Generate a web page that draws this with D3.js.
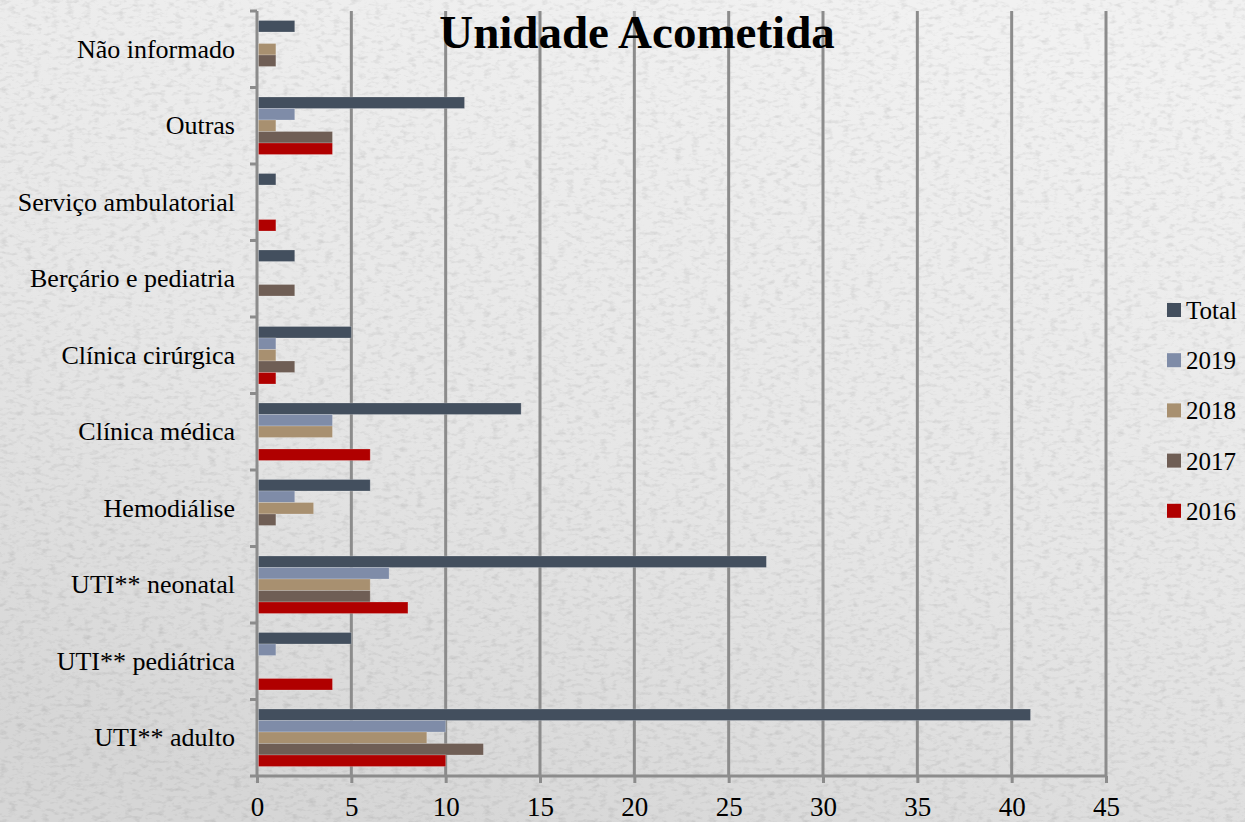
<!DOCTYPE html>
<html>
<head>
<meta charset="utf-8">
<script src="https://cdn.jsdelivr.net/npm/d3@7"></script>
<style>
  body { margin: 0; background: #e4e4e4; }
  svg { display: block; }
  text { font-family: "Liberation Serif", "Times New Roman", serif; fill: #000; }
</style>
</head>
<body>
<div id="chart"></div>
<script>
// data, top category first
var categories = ["Não informado", "Outras", "Serviço ambulatorial", "Berçário e pediatria",
    "Clínica cirúrgica", "Clínica médica", "Hemodiálise", "UTI** neonatal",
    "UTI** pediátrica", "UTI** adulto"];
var seriesNames = ["Total", "2019", "2018", "2017", "2016"];
var total = [2, 11, 1, 2, 5, 14, 6, 27, 5, 41];
var y2019 = [0, 2, 0, 0, 1, 4, 2, 7, 1, 10];
var y2018 = [1, 1, 0, 0, 1, 4, 3, 6, 0, 9];
var y2017 = [1, 4, 0, 2, 2, 0, 1, 6, 0, 12];
var y2016 = [0, 4, 1, 0, 1, 6, 0, 8, 4, 10];
var xTicks = [0, 5, 10, 15, 20, 25, 30, 35, 40, 45];

var colors = ["#434f5e", "#7f8ca8", "#a89070", "#6f5e55", "#b00000"];
var seriesValues = [total, y2019, y2018, y2017, y2016];

var svgWidth = 1245;
var svgHeight = 822;
var margin = { top: 11, right: 139, bottom: 46, left: 257 };
var width = svgWidth - margin.left - margin.right;
var height = svgHeight - margin.top - margin.bottom;

var svg = d3.select("#chart")
    .append("svg")
    .attr("width", svgWidth)
    .attr("height", svgHeight);

// paper-like background
var defs = svg.append("defs");
var grad = defs.append("linearGradient").attr("id", "bg")
    .attr("x1", "0.7").attr("y1", "0").attr("x2", "0.3").attr("y2", "1");
grad.append("stop").attr("offset", "0%").attr("stop-color", "#f1f1f1");
grad.append("stop").attr("offset", "55%").attr("stop-color", "#e6e6e6");
grad.append("stop").attr("offset", "100%").attr("stop-color", "#d6d6d6");

var filt = defs.append("filter").attr("id", "paper")
    .attr("x", 0).attr("y", 0).attr("width", "100%").attr("height", "100%");
filt.append("feTurbulence")
    .attr("type", "fractalNoise")
    .attr("baseFrequency", "0.12 0.25")
    .attr("numOctaves", 3)
    .attr("seed", 4)
    .attr("result", "noise");
filt.append("feColorMatrix")
    .attr("type", "matrix")
    .attr("values", "0 0 0 0 0  0 0 0 0 0  0 0 0 0 0  0 0 0 -1.2 0.62");

svg.append("rect")
    .attr("width", svgWidth).attr("height", svgHeight)
    .attr("fill", "url(#bg)");
svg.append("rect")
    .attr("width", svgWidth).attr("height", svgHeight)
    .attr("filter", "url(#paper)")
    .attr("opacity", 0.18);

var chartGroup = svg.append("g")
    .attr("transform", `translate(${margin.left},${margin.top})`);

var xScale = d3.scaleLinear().domain([0, 45]).range([0, width]);
var yScale = d3.scaleBand().domain(categories).range([0, height]);
var innerScale = d3.scaleBand().domain(seriesNames)
    .range([9.5, yScale.bandwidth() - 9.5]);

// gridlines
chartGroup.selectAll(".grid")
    .data(xTicks.slice(1))
    .enter()
    .append("line")
    .attr("x1", d => xScale(d)).attr("x2", d => xScale(d))
    .attr("y1", 0).attr("y2", height)
    .attr("stroke", "#8c8c8c")
    .attr("stroke-width", 3);

// x axis
var bottomAxis = d3.axisBottom(xScale).tickValues(xTicks).tickSize(7).tickPadding(14);
var xAxisG = chartGroup.append("g")
    .attr("transform", `translate(0, ${height})`)
    .call(bottomAxis)
    .attr("font-family", "'Liberation Serif', serif")
    .attr("font-size", 27);
xAxisG.select(".domain").attr("stroke", "#8c8c8c").attr("stroke-width", 3)
    .attr("d", `M0,0H${width}`);
xAxisG.selectAll(".tick line").attr("stroke", "#8c8c8c").attr("stroke-width", 3);
xAxisG.selectAll(".tick text").attr("fill", "#000");

// y axis
var leftAxis = d3.axisLeft(yScale).tickSize(0).tickPadding(22);
var yAxisG = chartGroup.append("g").call(leftAxis)
    .attr("font-family", "'Liberation Serif', serif")
    .attr("font-size", 26);
yAxisG.select(".domain").attr("stroke", "#8c8c8c").attr("stroke-width", 3)
    .attr("d", `M0,0V${height}`);
yAxisG.selectAll(".tick text").attr("fill", "#000");

// category separator ticks
chartGroup.selectAll(".ytick")
    .data(d3.range(categories.length + 1))
    .enter()
    .append("line")
    .attr("x1", -7).attr("x2", 0)
    .attr("y1", d => d * yScale.step()).attr("y2", d => d * yScale.step())
    .attr("stroke", "#8c8c8c")
    .attr("stroke-width", 3);

// bars
var barData = [];
seriesValues.forEach(function (vals, s) {
    vals.forEach(function (v, i) {
        if (v > 0) barData.push({ cat: categories[i], series: seriesNames[s], value: v, color: colors[s] });
    });
});
chartGroup.selectAll(".bar")
    .data(barData)
    .enter()
    .append("rect")
    .attr("class", "bar")
    .attr("x", 1.5)
    .attr("y", d => yScale(d.cat) + innerScale(d.series))
    .attr("width", d => xScale(d.value) - 1.5)
    .attr("height", innerScale.bandwidth())
    .attr("fill", d => d.color)
    .attr("stroke", "rgba(255,255,255,0.25)")
    .attr("stroke-width", 0.8);

// title
svg.append("text")
    .attr("x", 637)
    .attr("y", 48)
    .attr("text-anchor", "middle")
    .style("font-size", "47px")
    .style("font-weight", "bold")
    .text("Unidade Acometida");

// legend
var legend = svg.append("g").attr("transform", "translate(1167, 310)");
seriesNames.forEach(function (name, s) {
    var row = legend.append("g").attr("transform", `translate(0, ${s * 50.2})`);
    row.append("rect")
        .attr("x", 0).attr("y", -7)
        .attr("width", 14).attr("height", 14)
        .attr("fill", colors[s]);
    row.append("text")
        .attr("x", 19).attr("y", 9)
        .style("font-size", "25px")
        .text(name);
});
</script>
</body>
</html>
